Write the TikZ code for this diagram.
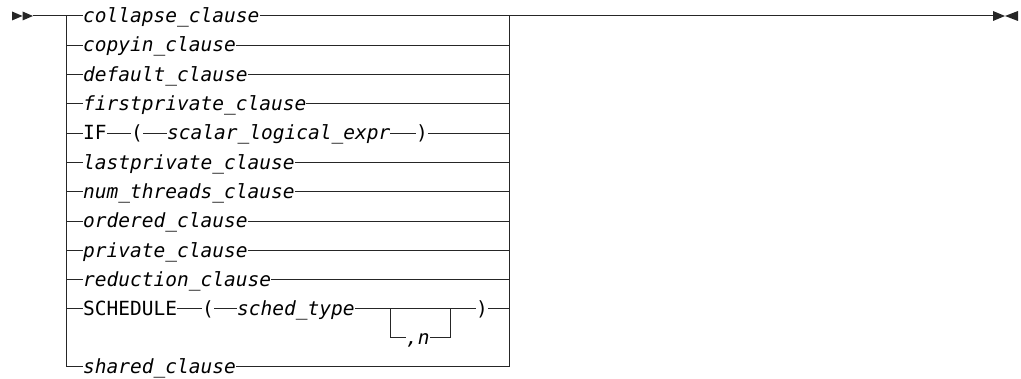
\documentclass[tikz,border=0pt]{standalone}
\usepackage{fontspec}
\newfontfamily\synfont{DejaVu Sans Mono}
\tikzset{
  syn/.style={inner sep=0pt, text height=13.4pt, text depth=0pt,
    font=\synfont\fontsize{19.5}{23}\selectfont},
  kw/.style={syn, anchor=west},
  var/.style={kw, font=\synfont\fontsize{19.5}{23}\selectfont\itshape},
  rule/.style={line width=1pt, draw=black!85},
  endmark/.style={fill=black!85},
}

\begin{document}
\begin{tikzpicture}[x=1pt, y=-1pt]
  \useasboundingbox (0,0) rectangle (1021,379);

  \coordinate (start) at (33,16);
  \coordinate (lrail) at (66,16);
  \coordinate (rrail) at (509,16);
  \coordinate (stop) at (993,16);

  \node[var] (collapse) at (83,16) {collapse\_clause};
  \node[var] (copyin) at (83,45.3) {copyin\_clause};
  \node[var] (default) at (83,74.6) {default\_clause};
  \node[var] (firstpriv) at (83,103.9) {firstprivate\_clause};
  \node[kw] (if) at (83,133.2) {IF};
  \node[syn] (iflp) at (137,133.2) {(};
  \node[var] (sle) at (167,133.2) {scalar\_logical\_expr};
  \node[syn] (ifrp) at (422,133.2) {)};
  \node[var] (lastpriv) at (83,162.5) {lastprivate\_clause};
  \node[var] (numthr) at (83,191.8) {num\_threads\_clause};
  \node[var] (ordered) at (83,221.1) {ordered\_clause};
  \node[var] (private) at (83,250.4) {private\_clause};
  \node[var] (reduction) at (83,279.7) {reduction\_clause};
  \node[kw] (sched) at (83,309) {SCHEDULE};
  \node[syn] (schlp) at (208,309) {(};
  \node[var] (stype) at (237,309) {sched\_type};
  \node[syn] (schrp) at (482,309) {)};
  \node[var] (chunk) at (406,338) {,n};
  \node[var] (shared) at (83,367) {shared\_clause};

  \coordinate (optin) at (390,309);
  \coordinate (optout) at (450,309);

  \fill[endmark] (12,11.5) -- (22.5,16) -- (12,20.5) -- cycle;
  \fill[endmark] (22.5,11.5) -- (33,16) -- (22.5,20.5) -- cycle;
  \fill[endmark] (993,11) -- (1005,16) -- (993,21) -- cycle;
  \fill[endmark] (1018,11) -- (1005,16) -- (1018,21) -- cycle;

  \draw[rule] (start) -- (collapse.west);
  \draw[rule] (lrail) |- (shared.west);
  \draw[rule] (shared.east) -| (rrail);
  \draw[rule] (rrail) -- (stop);

  \draw[rule] (collapse.east) -- (collapse.east -| rrail);
  \draw[rule] (copyin.west -| lrail) -- (copyin.west);
  \draw[rule] (copyin.east) -- (copyin.east -| rrail);
  \draw[rule] (default.west -| lrail) -- (default.west);
  \draw[rule] (default.east) -- (default.east -| rrail);
  \draw[rule] (firstpriv.west -| lrail) -- (firstpriv.west);
  \draw[rule] (firstpriv.east) -- (firstpriv.east -| rrail);
  \draw[rule] (if.west -| lrail) -- (if.west);
  \draw[rule] (if.east) -- (iflp.west);
  \draw[rule] (iflp.east) -- (sle.west);
  \draw[rule] (sle.east) -- (ifrp.west);
  \draw[rule] (ifrp.east) -- (ifrp.east -| rrail);
  \draw[rule] (lastpriv.west -| lrail) -- (lastpriv.west);
  \draw[rule] (lastpriv.east) -- (lastpriv.east -| rrail);
  \draw[rule] (numthr.west -| lrail) -- (numthr.west);
  \draw[rule] (numthr.east) -- (numthr.east -| rrail);
  \draw[rule] (ordered.west -| lrail) -- (ordered.west);
  \draw[rule] (ordered.east) -- (ordered.east -| rrail);
  \draw[rule] (private.west -| lrail) -- (private.west);
  \draw[rule] (private.east) -- (private.east -| rrail);
  \draw[rule] (reduction.west -| lrail) -- (reduction.west);
  \draw[rule] (reduction.east) -- (reduction.east -| rrail);
  \draw[rule] (sched.west -| lrail) -- (sched.west);
  \draw[rule] (sched.east) -- (schlp.west);
  \draw[rule] (schlp.east) -- (stype.west);
  \draw[rule] (stype.east) -- (schrp.west);
  \draw[rule] (optin) |- (chunk.west);
  \draw[rule] (chunk.east) -| (optout);
  \draw[rule] (schrp.east) -- (schrp.east -| rrail);
\end{tikzpicture}
\end{document}
